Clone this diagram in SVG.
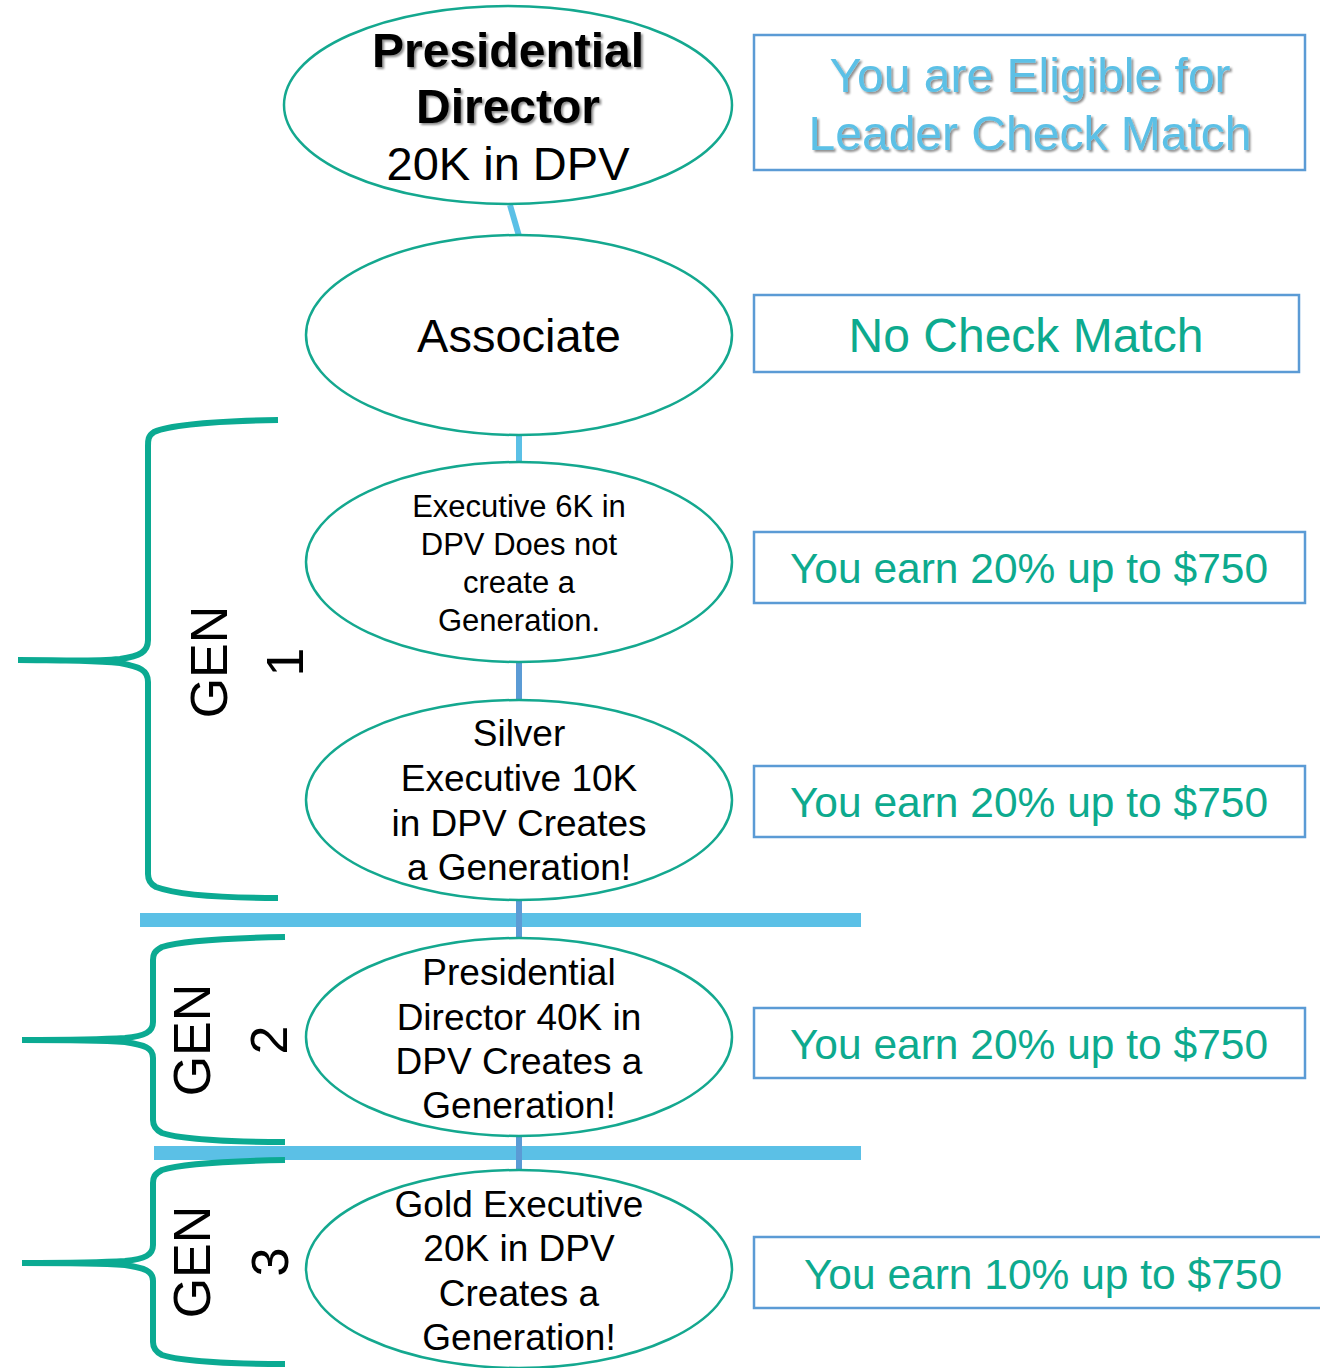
<svg xmlns="http://www.w3.org/2000/svg" width="1320" height="1368" viewBox="0 0 1320 1368">
<defs>
<style>
.node{fill:#fff;stroke:#14A88F;stroke-width:2.5}
.box{fill:#fff;stroke:#5B9BD5;stroke-width:2.5}
.t{font-family:"Liberation Sans",Arial,sans-serif;fill:#000;text-anchor:middle}
.teal{font-family:"Liberation Sans",Arial,sans-serif;fill:#0DAA8E;text-anchor:middle;font-size:42.5px}
.sky{font-family:"Liberation Sans",Arial,sans-serif;fill:#5BC0E6;text-anchor:middle;font-size:48px}
.brace{fill:none;stroke:#0BAA92;stroke-width:6}
.gen{font-family:"Liberation Sans",Arial,sans-serif;fill:#000;font-size:52px;text-anchor:middle}
.bar{stroke:#5BC0E6;stroke-width:14}
</style>
<filter id="sh" x="-10%" y="-10%" width="120%" height="130%">
<feDropShadow dx="2" dy="2" stdDeviation="1.2" flood-color="#000" flood-opacity="0.45"/>
</filter>
</defs>
<rect width="1320" height="1368" fill="#fff"/>

<g id="bars">
<line class="bar" x1="140" y1="920" x2="861" y2="920"/>
<line class="bar" x1="154" y1="1153" x2="861" y2="1153"/>
</g>

<g id="connectors">
<line x1="510" y1="205" x2="519" y2="236" stroke="#5BC0E6" stroke-width="6"/>
<line x1="519" y1="435" x2="519" y2="463" stroke="#5BC0E6" stroke-width="6"/>
<line x1="519" y1="662" x2="519" y2="700" stroke="#5B9BD5" stroke-width="6"/>
<line x1="519" y1="900" x2="519" y2="938" stroke="#5B9BD5" stroke-width="6"/>
<line x1="519" y1="1137" x2="519" y2="1170" stroke="#5B9BD5" stroke-width="6"/>
</g>

<g id="braces">
<path class="brace" d="M278,420 C220,421 170,425 154,432 C148,436 148,440 148,446 L148,640 C148,652 140,656 120,659 C90,662 50,660 18,660 C50,660 90,660 120,663 C140,667 148,670 148,682 L148,874 C148,880 150,884 156,887 C175,894 220,898 278,898"/>
<path class="brace" d="M285,937 C230,938 180,941 162,947 C154,951 153,955 153,960 L153,1022 C153,1032 145,1036 125,1038 C95,1040 55,1040 22,1040 C55,1040 95,1040 125,1042 C145,1045 153,1048 153,1058 L153,1120 C153,1126 156,1130 162,1133 C180,1139 230,1142 285,1142"/>
<path class="brace" d="M285,1160 C230,1161 180,1164 162,1170 C154,1174 153,1178 153,1183 L153,1245 C153,1255 145,1259 125,1261 C95,1263 55,1263 22,1263 C55,1263 95,1263 125,1265 C145,1268 153,1271 153,1281 L153,1342 C153,1348 156,1352 162,1355 C180,1361 230,1364 285,1364"/>
</g>

<g id="gen1">
<text class="gen" transform="translate(227,662) rotate(-90)">GEN</text>
<text class="gen" transform="translate(303,662) rotate(-90)">1</text>
</g>
<g id="gen2">
<text class="gen" transform="translate(210,1040) rotate(-90)">GEN</text>
<text class="gen" transform="translate(287,1040) rotate(-90)">2</text>
</g>
<g id="gen3">
<text class="gen" transform="translate(210,1262) rotate(-90)">GEN</text>
<text class="gen" transform="translate(288,1262) rotate(-90)">3</text>
</g>

<g id="n1">
<ellipse class="node" cx="508" cy="105" rx="224" ry="99"/>
<text class="t" filter="url(#sh)" font-size="48" font-weight="bold" x="508" y="67">Presidential</text>
<text class="t" filter="url(#sh)" font-size="48" font-weight="bold" x="508" y="123">Director</text>
<text class="t" font-size="47" x="508" y="180">20K in DPV</text>
</g>
<g id="n2">
<ellipse class="node" cx="519" cy="335" rx="213" ry="100"/>
<text class="t" font-size="47" x="519" y="352">Associate</text>
</g>
<g id="n3">
<ellipse class="node" cx="519" cy="562" rx="213" ry="100"/>
<text class="t" font-size="31" x="519" y="517">Executive 6K in</text>
<text class="t" font-size="31" x="519" y="555">DPV Does not</text>
<text class="t" font-size="31" x="519" y="593">create a</text>
<text class="t" font-size="31" x="519" y="631">Generation.</text>
</g>
<g id="n4">
<ellipse class="node" cx="519" cy="800" rx="213" ry="100"/>
<text class="t" font-size="37" x="519" y="746">Silver</text>
<text class="t" font-size="37" x="519" y="791">Executive 10K</text>
<text class="t" font-size="37" x="519" y="836">in DPV Creates</text>
<text class="t" font-size="37" x="519" y="880">a Generation!</text>
</g>
<g id="n5">
<ellipse class="node" cx="519" cy="1037" rx="213" ry="99"/>
<text class="t" font-size="37" x="519" y="985">Presidential</text>
<text class="t" font-size="37" x="519" y="1030">Director 40K in</text>
<text class="t" font-size="37" x="519" y="1074">DPV Creates a</text>
<text class="t" font-size="37" x="519" y="1118">Generation!</text>
</g>
<g id="n6">
<ellipse class="node" cx="519" cy="1269" rx="213" ry="99"/>
<text class="t" font-size="37" x="519" y="1217">Gold Executive</text>
<text class="t" font-size="37" x="519" y="1261">20K in DPV</text>
<text class="t" font-size="37" x="519" y="1306">Creates a</text>
<text class="t" font-size="37" x="519" y="1350">Generation!</text>
</g>

<g id="b1">
<rect class="box" x="754" y="35" width="551" height="135"/>
<text class="sky" filter="url(#sh)" x="1030" y="92">You are Eligible for</text>
<text class="sky" filter="url(#sh)" x="1030" y="150">Leader Check Match</text>
</g>
<g id="b2">
<rect class="box" x="754" y="295" width="545" height="77"/>
<text class="teal" style="font-size:48px" x="1026" y="352">No Check Match</text>
</g>
<g id="b3">
<rect class="box" x="754" y="532" width="551" height="71"/>
<text class="teal" x="1029" y="583">You earn 20% up to $750</text>
</g>
<g id="b4">
<rect class="box" x="754" y="766" width="551" height="71"/>
<text class="teal" x="1029" y="817">You earn 20% up to $750</text>
</g>
<g id="b5">
<rect class="box" x="754" y="1008" width="551" height="70"/>
<text class="teal" x="1029" y="1059">You earn 20% up to $750</text>
</g>
<g id="b6">
<rect class="box" x="754" y="1237" width="580" height="71"/>
<text class="teal" x="1043" y="1289">You earn 10% up to $750</text>
</g>
</svg>
